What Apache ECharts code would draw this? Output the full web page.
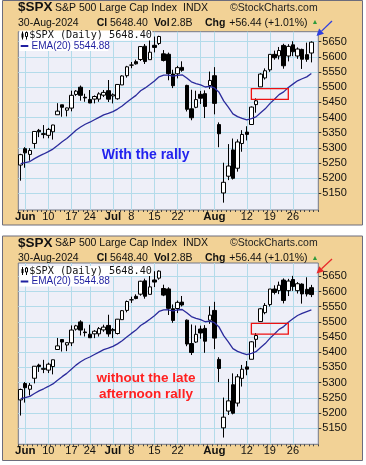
<!DOCTYPE html>
<html><head><meta charset="utf-8">
<script src="https://cdn.jsdelivr.net/npm/echarts@6/dist/echarts.min.js"></script>
<style>html,body{margin:0;padding:0;background:#fff}#c{width:366px;height:465px}</style>
</head><body><div id="c"></div>
<script>
// ---- data ----
const dates = ['May 31','Jun 3','Jun 4','Jun 5','Jun 6','Jun 7','Jun 10','Jun 11','Jun 12','Jun 13','Jun 14','Jun 17','Jun 18','Jun 20','Jun 21','Jun 24','Jun 25','Jun 26','Jun 27','Jun 28','Jul 1','Jul 2','Jul 3','Jul 5','Jul 8','Jul 9','Jul 10','Jul 11','Jul 12','Jul 15','Jul 16','Jul 17','Jul 18','Jul 19','Jul 22','Jul 23','Jul 24','Jul 25','Jul 26','Jul 29','Jul 30','Jul 31','Aug 1','Aug 2','Aug 5','Aug 6','Aug 7','Aug 8','Aug 9','Aug 12','Aug 13','Aug 14','Aug 15','Aug 16','Aug 19','Aug 20','Aug 21','Aug 22','Aug 23','Aug 26','Aug 27','Aug 28','Aug 29','Aug 30'];
const openP = [5243.21,5297.15,5278.24,5314.48,5357.80,5343.81,5341.22,5353.00,5409.13,5441.93,
5424.08,5431.11,5476.15,5499.99,5466.77,5459.58,5460.73,5460.71,5473.59,5488.48,
5471.08,5461.84,5507.44,5537.91,5572.75,5584.24,5591.26,5635.21,5590.76,5638.16,
5644.09,5610.07,5608.56,5543.37,5544.16,5565.30,5505.84,5428.70,5433.67,5476.55,
5478.73,5505.59,5537.84,5376.63,5151.14,5206.42,5293.13,5232.71,5314.18,5351.88,
5376.98,5442.57,5501.13,5530.50,5557.23,5608.30,5603.09,5637.77,5602.89,5639.66,
5602.89,5624.51,5607.30,5612.74];
const highP = [5280.33,5302.11,5298.80,5354.16,5362.35,5375.08,5365.79,5375.95,5447.25,5441.93,
5432.39,5488.50,5490.38,5505.53,5478.31,5490.66,5472.88,5483.14,5490.81,5523.64,
5479.55,5509.69,5539.27,5570.33,5583.11,5590.75,5635.39,5642.45,5655.56,5666.94,
5669.67,5622.49,5614.05,5557.50,5570.36,5585.34,5508.04,5491.59,5488.32,5487.74,
5489.46,5551.51,5566.16,5383.89,5250.89,5312.34,5330.64,5328.03,5358.35,5371.20,
5436.50,5463.22,5546.23,5561.98,5608.30,5620.51,5632.68,5643.22,5641.82,5651.62,
5631.18,5627.03,5646.95,5651.37];
const lowP = [5191.68,5234.32,5257.63,5297.64,5335.36,5331.33,5331.52,5327.25,5409.13,5402.51,
5403.75,5420.40,5471.32,5455.56,5452.03,5447.59,5446.56,5451.87,5467.54,5451.12,
5446.53,5458.43,5507.42,5531.63,5562.51,5574.57,5586.44,5576.53,5590.44,5614.75,
5639.02,5584.81,5522.81,5497.04,5529.04,5550.90,5419.98,5390.95,5430.70,5444.44,
5398.26,5493.75,5410.42,5302.03,5119.26,5193.56,5195.54,5221.41,5287.14,5324.37,
5376.98,5415.78,5501.13,5525.17,5550.74,5590.50,5591.57,5560.95,5585.16,5602.34,
5593.48,5560.20,5583.71,5581.74];
const closeP = [5277.51,5283.40,5291.34,5354.03,5352.96,5346.99,5360.79,5375.32,5421.03,5433.74,
5431.60,5473.23,5487.03,5473.17,5464.62,5447.87,5469.30,5477.90,5482.87,5460.48,
5475.09,5509.01,5537.02,5567.19,5572.85,5576.98,5633.91,5584.54,5615.35,5631.22,
5667.20,5588.27,5544.59,5505.00,5564.41,5555.74,5427.13,5399.22,5459.10,5463.54,
5436.44,5522.30,5446.68,5346.56,5186.33,5240.03,5199.50,5319.31,5344.16,5344.39,
5434.43,5455.21,5543.22,5554.25,5608.25,5597.12,5620.85,5570.64,5634.61,5616.84,
5625.80,5592.18,5591.96,5648.40];
const ema20 = [5247.6,5251.0,5254.9,5264.3,5272.8,5279.8,5287.5,5295.9,5307.8,5319.8,
5330.5,5344.1,5357.7,5368.7,5377.8,5384.5,5392.6,5400.7,5408.5,5413.4,
5419.3,5427.8,5438.2,5450.5,5462.2,5473.1,5488.4,5497.6,5508.8,5520.5,
5534.4,5539.6,5540.0,5536.7,5539.3,5540.9,5530.0,5517.6,5512.0,5507.4,
5500.6,5502.7,5497.4,5483.0,5454.8,5434.3,5412.0,5403.1,5397.5,5392.5,
5396.5,5402.1,5415.5,5428.7,5445.8,5460.2,5475.5,5484.6,5498.9,5510.1,
5521.1,5527.9,5534.0,5544.9];
// last bar (open, high, low, close) and last EMA without the late afternoon rally
const lastBarNoRally = [5612.74, 5622.00, 5581.74, 5590.00];
const lastEmaNoRally = 5539.3;
const labelDates = ['Jun 3','Jun 10','Jun 17','Jun 24','Jul 1','Jul 8','Jul 15','Jul 22','Aug 1','Aug 12','Aug 19','Aug 26'];
const labelTexts = ['Jun','10','17','24','Jul','8','15','22','Aug','12','19','26'];
const monthLabels = ['Jun','Jul','Aug'];
const gridDates = ['Jun 3','Jun 10','Jun 17','Jun 24','Jul 1','Jul 8','Jul 15','Jul 22','Jul 29','Aug 1','Aug 12','Aug 19','Aug 26'];
const yTicks = [5150,5200,5250,5300,5350,5400,5450,5500,5550,5600,5650];
const boxRange = {from:'Aug 13', to:'Aug 23', low:5460, high:5495};

// ---- build ----
const categories = dates.concat(['']);
const labelMap = {};
labelDates.forEach((d,i)=>labelMap[d]=labelTexts[i]);
const F = '"Liberation Sans", Arial, sans-serif';

function candles(o,h,l,c){ return o.map((v,i)=>[v, c[i], l[i], h[i]]); }
const dataRally = candles(openP, highP, lowP, closeP);
const dataNoRally = dataRally.slice();
dataNoRally[dataNoRally.length-1] = [lastBarNoRally[0], lastBarNoRally[3], lastBarNoRally[2], lastBarNoRally[1]];
const emaNoRally = ema20.slice(); emaNoRally[emaNoRally.length-1] = lastEmaNoRally;

const panels = [
  {top:31.7, height:178.3, min:5095, max:5683, data:dataRally, ema:ema20},
  {top:263, height:181.3, min:5097, max:5694, data:dataNoRally, ema:emaNoRally}
];
const gridColor = '#b3dbea';

const option = {
  animation:false,
  grid: panels.map(p=>({left:18.3, width:300, top:p.top, height:p.height, show:true, backgroundColor:'#eeeff8', borderColor:'#737889', borderWidth:1})),
  xAxis: panels.map((p,i)=>({
    type:'category', gridIndex:i, data:categories, boundaryGap:true,
    axisLine:{show:false},
    axisTick:{show:true, interval:0, length:2, lineStyle:{color:'#444'}},
    axisLabel:{interval:(idx,val)=>labelMap[val]!==undefined, margin:1, fontSize:11, fontFamily:F, color:'#111',
      formatter:(val)=>{const t=labelMap[val]; if(t===undefined) return ''; return monthLabels.includes(t)?'{m|'+t+'}':t;},
      rich:{m:{fontWeight:'bold', fontSize:11.5, fontFamily:F, color:'#111'}}},
    splitLine:{show:false}
  })),
  yAxis: panels.map((p,i)=>({
    type:'value', gridIndex:i, position:'right', min:p.min, max:p.max,
    axisLine:{show:false}, splitLine:{show:false},
    axisTick:{show:true, length:3, customValues:yTicks, lineStyle:{color:'#333'}},
    axisLabel:{customValues:yTicks, margin:4, fontSize:11, fontFamily:F, color:'#111', formatter:(v)=>String(Math.round(v))}
  })),
  series: [].concat(...panels.map((p,i)=>[
    {type:'candlestick', xAxisIndex:i, yAxisIndex:i, data:p.data, barWidth:4, z:3,
     itemStyle:{color:'#ffffff', color0:'#000000', borderColor:'#000000', borderColor0:'#000000', borderWidth:1},
     markLine:{silent:true, symbol:'none', z:1, animation:false, label:{show:false}, emphasis:{disabled:true},
       lineStyle:{color:gridColor, width:1, type:'solid'},
       data: gridDates.map(d=>({xAxis:d})).concat(yTicks.map(v=>({yAxis:v})))},
     markArea:{silent:true, z:6, itemStyle:{color:'rgba(0,0,0,0)', borderColor:'#ee1111', borderWidth:1.3},
       data:[[{xAxis:boxRange.from, yAxis:boxRange.high},{xAxis:boxRange.to, yAxis:boxRange.low}]]}
    },
    {type:'line', xAxisIndex:i, yAxisIndex:i, data:p.ema, showSymbol:false, z:4, silent:true,
     lineStyle:{color:'#2b2b9c', width:1.3}}
  ])),
  graphic: {elements: []}
};

function txt(x,y,text,size,bold,color,family,extra){
  return Object.assign({type:'text', x, y, z:50, silent:true, style:Object.assign({text, font:(bold?'bold ':'')+size+'px '+(family||F), fill:color||'#111', verticalAlign:'middle'}, extra||{})});
}
function arrow(x1,y1,x2,y2,color){
  const dx=x2-x1, dy=y2-y1, L=Math.hypot(dx,dy), ux=dx/L, uy=dy/L, hl=7, hw=3.5;
  const bx=x2-ux*hl, by=y2-uy*hl;
  return [{type:'line', z:60, silent:true, shape:{x1,y1,x2:bx,y2:by}, style:{stroke:color, lineWidth:1.3}},
    {type:'polygon', z:60, silent:true, shape:{points:[[x2,y2],[bx-uy*hw, by+ux*hw],[bx+uy*hw, by-ux*hw]]}, style:{fill:color}}];
}
function panelDeco(dy, legDy){
  const els = [];
  els.push({type:'rect', z:-10, silent:true, shape:{x:2.5, y:0.5+dy, width:360, height:224.5}, style:{fill:'#f2d296', stroke:'#6c6c7c', lineWidth:1}});
  els.push(txt(18, 7.5+dy, '$SPX', 13.5, true));
  els.push(txt(55, 8+dy, 'S&P 500 Large Cap Index', 10.5));
  els.push(txt(183, 8+dy, 'INDX', 10.5));
  els.push(txt(230, 8+dy, '\u00A9StockCharts.com', 10.5, false, '#222'));
  els.push(txt(18, 23+dy, '30-Aug-2024', 10.5));
  els.push(txt(96.7, 23+dy, 'Cl', 10.5, true));
  els.push(txt(110, 23+dy, '5648.40', 10.5));
  els.push(txt(154, 23+dy, 'Vol', 10.5, true));
  els.push(txt(171, 23+dy, '2.8B', 10.5));
  els.push(txt(205, 23+dy, 'Chg', 10.5, true));
  els.push(txt(229.3, 23+dy, '+56.44 (+1.01%)', 10.5));
  els.push(txt(311.5, 22.5+dy, '\u25B2', 7, false, '#2e9a3a'));
  // legend boxes
  els.push({type:'rect', z:45, silent:true, shape:{x:19.3, y:legDy+30.5, width:133, height:10}, style:{fill:'#ffffff'}});
  els.push({type:'rect', z:45, silent:true, shape:{x:19.3, y:legDy+40.5, width:89, height:10.5}, style:{fill:'#ffffff'}});
  // candle icon
  els.push({type:'line', z:50, silent:true, shape:{x1:22.5,y1:legDy+31.5,x2:22.5,y2:legDy+39.5}, style:{stroke:'#000',lineWidth:1}});
  els.push({type:'rect', z:51, silent:true, shape:{x:21.5,y:legDy+33.5,width:2,height:4}, style:{fill:'#000'}});
  els.push({type:'line', z:50, silent:true, shape:{x1:26.5,y1:legDy+31.5,x2:26.5,y2:legDy+39.5}, style:{stroke:'#000',lineWidth:1}});
  els.push({type:'rect', z:51, silent:true, shape:{x:25.5,y:legDy+32.5,width:2,height:4}, style:{fill:'#fff',stroke:'#000',lineWidth:1}});
  els.push(txt(29.3, legDy+35.5, '$SPX (Daily) 5648.40', 10.2, false, '#111', '"DejaVu Sans Mono", monospace'));
  els.push({type:'line', z:50, silent:true, shape:{x1:20.7,y1:legDy+46,x2:28.3,y2:legDy+46}, style:{stroke:'#1f1fa0',lineWidth:2}});
  els.push(txt(31.5, legDy+46, 'EMA(20) 5544.88', 10, false, '#1f1fa0'));
  return els;
}
option.graphic.elements = [].concat(
  panelDeco(0, 0),
  panelDeco(235.5, 235.5),
  [txt(101.7, 155, 'With the rally', 14, true, '#2222ee')],
  [txt(146, 386.5, 'without the late\nafternoon rally', 13.5, true, '#ff2020', F, {align:'center', lineHeight:15.6})],
  arrow(332, 21, 316.5, 36, '#2f3fe0'),
  arrow(332, 259, 316.5, 273.5, '#e82a2a')
);

const chart = echarts.init(document.getElementById('c'), null, {renderer:'canvas'});
chart.setOption(option);
</script></body></html>
